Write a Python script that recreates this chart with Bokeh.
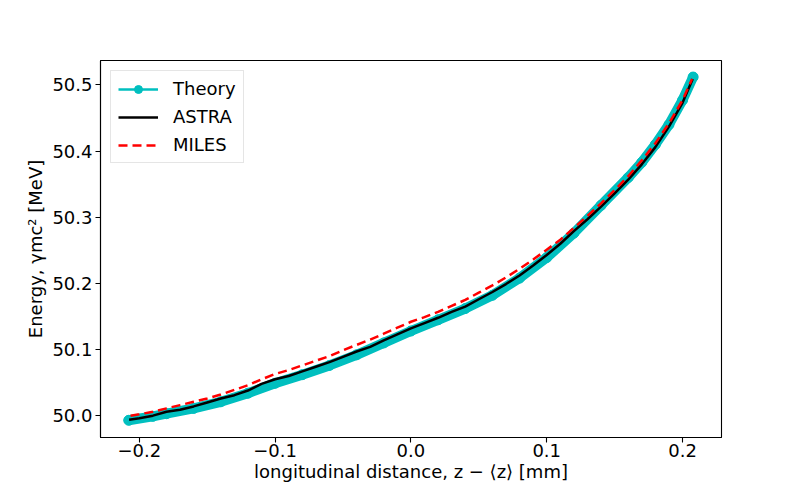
from bokeh.plotting import figure
from bokeh.models import Range1d, FixedTicker, CustomJSTickFormatter, Legend, LegendItem
from bokeh.embed import file_html
from bokeh.resources import INLINE

# ---- data ----
theory_z = [-0.2078, -0.19, -0.18, -0.16, -0.14, -0.12, -0.10, -0.08, -0.06, -0.04,
            -0.02, 0.00, 0.02, 0.04, 0.06, 0.08, 0.10, 0.12, 0.14, 0.16,
            0.17, 0.18, 0.19, 0.20, 0.2078]
theory_E = [49.993, 49.999, 50.003, 50.011, 50.021, 50.034, 50.049, 50.062, 50.076, 50.092,
            50.110, 50.128, 50.145, 50.162, 50.182, 50.208, 50.239, 50.276, 50.318, 50.360,
            50.383, 50.410, 50.440, 50.477, 50.512]

astra_z = [-0.2075, -0.20, -0.19, -0.18, -0.17, -0.16, -0.15, -0.14, -0.13, -0.12,
           -0.11, -0.10, -0.09, -0.08, -0.07, -0.06, -0.05, -0.04, -0.03, -0.02,
           -0.01, 0.00, 0.01, 0.02, 0.03, 0.04, 0.05, 0.06, 0.07, 0.08,
           0.09, 0.10, 0.11, 0.12, 0.13, 0.14, 0.15, 0.16, 0.17, 0.18,
           0.19, 0.20, 0.2075]
astra_E = [49.994, 49.996, 50.000, 50.006, 50.009, 50.014, 50.020, 50.026, 50.031, 50.038,
           50.048, 50.055, 50.060, 50.067, 50.074, 50.081, 50.089, 50.097, 50.104, 50.114,
           50.123, 50.132, 50.140, 50.148, 50.157, 50.165, 50.176, 50.187, 50.199, 50.212,
           50.227, 50.243, 50.260, 50.279, 50.297, 50.316, 50.336, 50.357, 50.380, 50.406,
           50.437, 50.473, 50.509]

miles_z = [-0.2065, -0.20, -0.19, -0.18, -0.17, -0.16, -0.15, -0.14, -0.13, -0.12,
           -0.11, -0.10, -0.09, -0.08, -0.07, -0.06, -0.05, -0.04, -0.03, -0.02,
           -0.01, 0.00, 0.01, 0.02, 0.03, 0.04, 0.05, 0.06, 0.07, 0.08,
           0.09, 0.10, 0.11, 0.12, 0.13, 0.14, 0.15, 0.16, 0.17, 0.18,
           0.19, 0.20, 0.207]
miles_E = [50.000, 50.002, 50.006, 50.011, 50.016, 50.021, 50.026, 50.032, 50.039, 50.046,
           50.055, 50.063, 50.069, 50.076, 50.083, 50.090, 50.099, 50.107, 50.115, 50.124,
           50.133, 50.142, 50.149, 50.157, 50.166, 50.175, 50.186, 50.197, 50.209, 50.222,
           50.236, 50.251, 50.266, 50.284, 50.302, 50.321, 50.341, 50.362, 50.386, 50.412,
           50.442, 50.477, 50.509]

x_ticks = [-0.2, -0.1, 0.0, 0.1, 0.2]
y_ticks = [50.0, 50.1, 50.2, 50.3, 50.4, 50.5]

series_labels = ["Theory", "ASTRA", "MILES"]
x_label = "longitudinal distance, z − ⟨z⟩ [mm]"
y_label = "Energy, γmc² [MeV]"

CYAN = "#00BFBF"
FONT = "DejaVu Sans"

p = figure(width=784, height=484, output_backend="svg", toolbar_location=None,
           x_range=Range1d(-0.2286, 0.2287), y_range=Range1d(49.967, 50.537),
           min_border_left=100, min_border_right=63, min_border_top=60, min_border_bottom=40)
p.background_fill_color = "white"
p.border_fill_color = "white"
p.grid.visible = False
p.outline_line_color = "black"
p.outline_line_width = 1.1

for ax in (p.xaxis[0], p.yaxis[0]):
    ax.axis_line_color = "black"
    ax.axis_line_width = 1.1
    ax.major_tick_line_color = "black"
    ax.major_tick_line_width = 1.1
    ax.major_tick_out = 5
    ax.major_tick_in = 0
    ax.minor_tick_out = 0
    ax.minor_tick_in = 0
    ax.major_label_text_font = FONT
    ax.major_label_text_font_size = "18px"
    ax.major_label_text_color = "black"
    ax.axis_label_text_font = FONT
    ax.axis_label_text_font_size = "18px"
    ax.axis_label_text_font_style = "normal"
    ax.axis_label_text_color = "black"
    ax.major_label_standoff = 3
    ax.axis_label_standoff = 3

p.xaxis.major_label_standoff = 1
p.xaxis.axis_label_standoff = 1

p.xaxis.ticker = FixedTicker(ticks=x_ticks)
p.yaxis.ticker = FixedTicker(ticks=y_ticks)
p.xaxis.formatter = CustomJSTickFormatter(
    code="return (tick < -1e-9 ? '\u2212' : '') + Math.abs(tick).toFixed(1);")
p.yaxis.formatter = CustomJSTickFormatter(code="return tick.toFixed(1);")
p.xaxis.axis_label = x_label
p.yaxis.axis_label = y_label

# theory: dense markers form a thick band
p.line(theory_z, theory_E, line_width=10, line_color=CYAN, line_cap="round", line_join="round")
th_line = p.line(theory_z, theory_E, line_width=2.5, line_color=CYAN)
th_pts = p.scatter(theory_z, theory_E, size=10, marker="circle", fill_color=CYAN, line_color=CYAN)
astra = p.line(astra_z, astra_E, line_width=2.5, line_color="black", line_join="round")
miles = p.line(miles_z, miles_E, line_width=2.5, line_color="red", line_dash="9 5")

legend = Legend(items=[
    LegendItem(label=series_labels[0], renderers=[th_line, th_pts]),
    LegendItem(label=series_labels[1], renderers=[astra]),
    LegendItem(label=series_labels[2], renderers=[miles]),
])
legend.location = "top_left"
legend.margin = 10
legend.padding = 7
legend.spacing = 7
legend.glyph_width = 40
legend.glyph_height = 20
legend.label_height = 20
legend.label_standoff = 15
legend.label_text_font = FONT
legend.label_text_font_size = "18px"
legend.label_text_color = "black"
legend.border_line_color = "#cccccc"
legend.border_line_width = 1
legend.background_fill_color = "white"
legend.background_fill_alpha = 0.8
p.add_layout(legend)

open("out.html", "w").write(file_html(p, INLINE))
